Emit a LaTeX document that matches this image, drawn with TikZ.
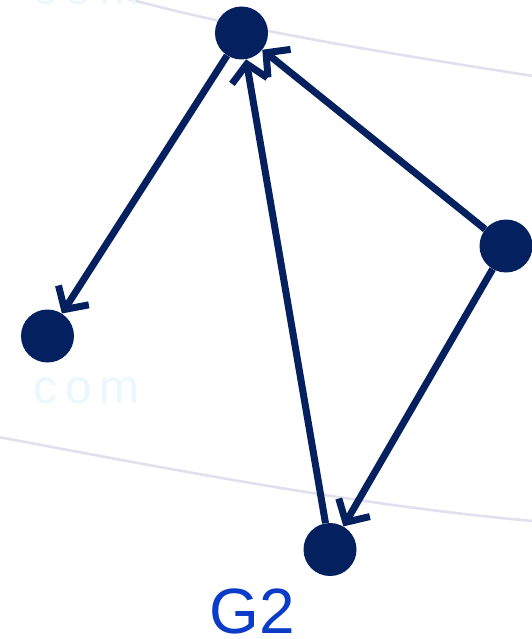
\documentclass[tikz,border=0pt]{standalone}
\usepackage{fontspec}
\setmainfont{Liberation Sans}
\usetikzlibrary{arrows.meta}
\definecolor{nodeblue}{HTML}{04205F}
\definecolor{labelblue}{HTML}{0A3CC8}
\definecolor{wmcyan}{HTML}{EAF7FD}
\definecolor{curvegrey}{HTML}{E2DFEE}
\tikzset{
  vertex/.style={circle, fill=nodeblue, draw=none, minimum size=53pt, inner sep=0pt},
  edge/.style={draw=nodeblue, line width=7pt, -{Straight Barb[length=17pt,width=36pt,line width=7pt]}},
  wm/.style={text=wmcyan, font=\fontsize{48}{48}\selectfont, inner sep=0pt},
  bgcurve/.style={draw=curvegrey, line width=2.6pt}
}
\begin{document}
\begin{tikzpicture}[x=1pt,y=-1pt]
\useasboundingbox (0,0) rectangle (531,639);
% faint background curves
\draw[bgcurve] (125,-2) .. controls (250,32) and (400,55) .. (533,76);
\draw[bgcurve] (-2,437) .. controls (150,465) and (350,505) .. (533,521);
% watermark texts
\node[wm, anchor=base west] (wm1) at (33,403) {c\,o\,m};
\node[wm, anchor=base west] (wm2) at (33,5) {c\,o\,m};
% vertices
\node[vertex] (t) at (241.5,33) {};
\node[vertex] (l) at (47.5,336) {};
\node[vertex] (r) at (506,246) {};
\node[vertex] (b) at (330,549.5) {};
% edges
\draw[edge] (t) -- (l);
\draw[edge] (r) -- (t);
\draw[edge] (b) -- (t);
\draw[edge] (r) -- (b);
% label
\node[text=labelblue, font=\fontsize{64}{64}\selectfont, inner sep=0pt, anchor=base] (g2) at (252,633) {G2};
\end{tikzpicture}
\end{document}
